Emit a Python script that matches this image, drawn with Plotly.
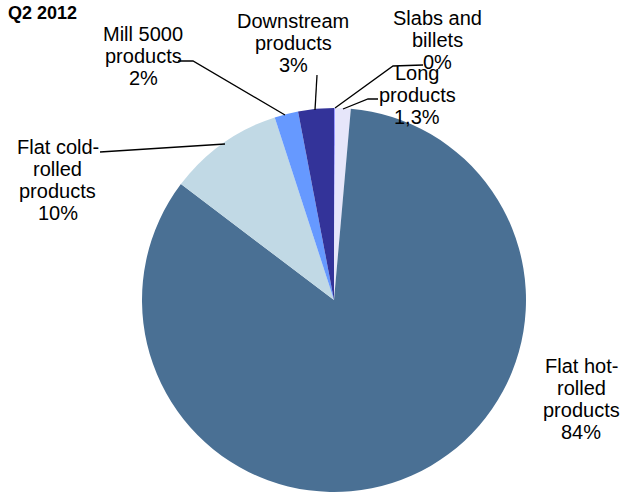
import plotly.graph_objects as go

W, H = 625, 492

# Data (clockwise from 12 o'clock)
categories = ["Slabs and billets", "Long products", "Flat hot-rolled products",
              "Flat cold-rolled products", "Mill 5000 products", "Downstream products"]
values = [0.1, 1.3, 84.0, 9.7, 2.0, 3.0]
pct_labels = ["0%", "1,3%", "84%", "10%", "2%", "3%"]
label_lines = [["Slabs and", "billets"], ["Long", "products"], ["Flat hot-", "rolled", "products"],
               ["Flat cold-", "rolled", "products"], ["Mill 5000", "products"], ["Downstream", "products"]]
colors = ["#9999FF", "#E6E6FA", "#4A7094", "#C1D9E5", "#6699FF", "#333399"]

# label block centres (px) and leader lines (px)
label_pos = [(437, 40), (417, 95), (581, 399), (58, 180), (143, 56), (293, 43)]
line_gap = 22
leaders = [
    [(335, 108), (393, 66), (423, 65)],
    [(343, 109), (368, 99), (378, 99)],
    None,
    [(225, 144), (100, 152)],
    [(285, 115), (193, 61), (178, 61)],
    [(315, 110), (317, 75)],
]

def px(x, y):
    return x / W, 1 - y / H

cx, cy, r = 334, 300, 192
fig = go.Figure(go.Pie(
    labels=categories, values=values, sort=False, direction="clockwise", rotation=0,
    marker=dict(colors=colors, line=dict(width=0)), textinfo="none", showlegend=False,
    domain=dict(x=[(cx - r) / W, (cx + r) / W], y=[1 - (cy + r) / H, 1 - (cy - r) / H]),
    hoverinfo="label+percent",
))

font = dict(family="Liberation Sans, Arial, sans-serif", size=20, color="#000000")
anns = []
for lines, pct, (x, y) in zip(label_lines, pct_labels, label_pos):
    all_lines = lines + [pct]
    n = len(all_lines)
    for i, t in enumerate(all_lines):
        ly = y + (i - (n - 1) / 2) * line_gap
        ax, ay = px(x, ly)
        anns.append(dict(text=t, x=ax, y=ay, xref="paper", yref="paper",
                         xanchor="center", yanchor="middle", showarrow=False, font=font))
anns.append(dict(text="<b>Q2 2012</b>", x=px(6, 13)[0], y=px(6, 13)[1], xref="paper", yref="paper",
                 xanchor="left", yanchor="middle", showarrow=False,
                 font=dict(family="Liberation Sans, Arial, sans-serif", size=18, color="#000000")))

shapes = []
for pts in leaders:
    if not pts:
        continue
    path = "M " + " L ".join(f"{px(x, y)[0]:.5f},{px(x, y)[1]:.5f}" for x, y in pts)
    shapes.append(dict(type="path", path=path, xref="paper", yref="paper",
                       line=dict(color="#000000", width=1.3)))

fig.update_layout(width=W, height=H, margin=dict(l=0, r=0, t=0, b=0),
                  paper_bgcolor="white", plot_bgcolor="white",
                  annotations=anns, shapes=shapes)
fig.write_html("out.html", config={"displayModeBar": False},
               post_script="document.body.style.margin='0';document.body.style.overflow='hidden';")
